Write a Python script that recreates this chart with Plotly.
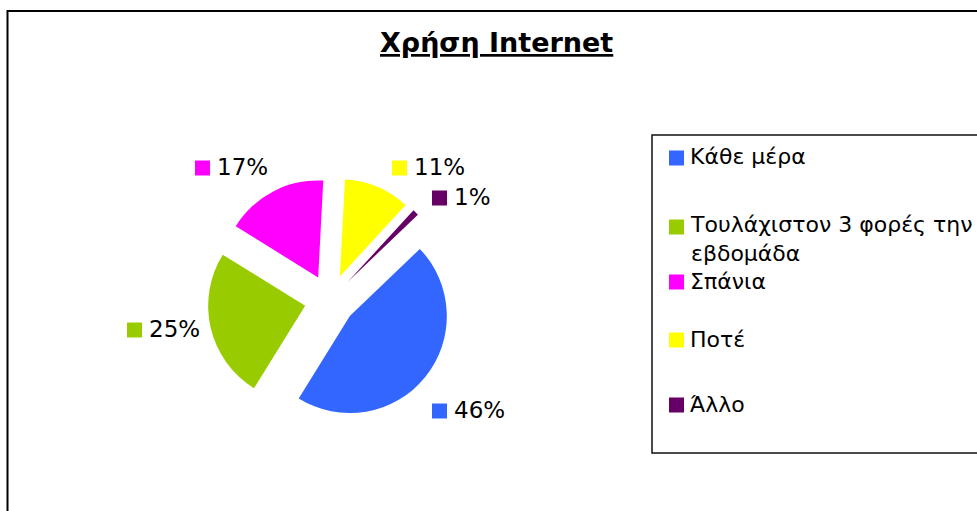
import plotly.graph_objects as go

# Survey: how often respondents use the Internet
categories = ["Κάθε μέρα", "Τουλάχιστον 3 φορές την<br>εβδομάδα", "Σπάνια", "Ποτέ", "Άλλο"]
shares = [46, 25, 17, 11, 1]
colors = ["#3366FF", "#99CC00", "#FF00FF", "#FFFF00", "#660066"]
chart_title = "Χρήση Internet"

W, H = 977, 511
FONT = "DejaVu Sans, Arial, sans-serif"


def px(x):
    return x / W


def py(y):
    return 1 - y / H


# pie placement (pixels): centre, radius and explosion
cx, cy, radius, explode = 330, 300, 97, 0.263
half = radius * (1 + explode)

fig = go.Figure(
    go.Pie(
        labels=[c.replace("<br>", " ") for c in categories],
        values=shares,
        sort=False,
        direction="clockwise",
        rotation=46.2,
        pull=[explode] * len(shares),
        marker=dict(colors=colors, line=dict(width=0)),
        textinfo="none",
        hoverinfo="label+percent",
        showlegend=False,
        domain=dict(x=[px(cx - half), px(cx + half)], y=[py(cy + half), py(cy - half)]),
    )
)

shapes = []
annotations = []

# outer chart frame (runs off the right and bottom edges)
shapes.append(dict(type="rect", xref="paper", yref="paper",
                   x0=px(7.5), x1=px(1010), y0=py(11), y1=py(540),
                   line=dict(color="black", width=2), fillcolor="rgba(0,0,0,0)"))

# title
annotations.append(dict(xref="paper", yref="paper", x=px(497), y=py(42),
                        xanchor="center", yanchor="middle", showarrow=False,
                        text="<b><u>" + chart_title + "</u></b>",
                        font=dict(family=FONT, size=27, color="black")))

# data labels: colour key + percentage
label_pos = [(432, 410), (127, 329), (195, 167), (392, 167), (432, 197)]
key = 15
for (lx, ly), v, col in zip(label_pos, shares, colors):
    shapes.append(dict(type="rect", xref="paper", yref="paper",
                       x0=px(lx), x1=px(lx + key), y0=py(ly - key / 2 + 1), y1=py(ly + key / 2 + 1),
                       line=dict(width=0), fillcolor=col))
    annotations.append(dict(xref="paper", yref="paper", x=px(lx + key + 5), y=py(ly),
                            xanchor="left", yanchor="middle", showarrow=False,
                            text=f"{v}%", font=dict(family=FONT, size=23, color="black")))

# legend box
shapes.append(dict(type="rect", xref="paper", yref="paper",
                   x0=px(652), x1=px(1010), y0=py(135), y1=py(453),
                   line=dict(color="#111111", width=1.5), fillcolor="rgba(0,0,0,0)"))

legend_rows = [157, 226, 281, 339, 404]
line_h = 26
for row_y, name, col in zip(legend_rows, categories, colors):
    shapes.append(dict(type="rect", xref="paper", yref="paper",
                       x0=px(669), x1=px(669 + key), y0=py(row_y - key / 2 + 1), y1=py(row_y + key / 2 + 1),
                       line=dict(width=0), fillcolor=col))
    n_lines = name.count("<br>") + 1
    annotations.append(dict(xref="paper", yref="paper", x=px(688),
                            y=py(row_y + (n_lines - 1) * line_h / 2),
                            xanchor="left", yanchor="middle", align="left", showarrow=False,
                            text=name, font=dict(family=FONT, size=22, color="black")))

fig.update_layout(
    width=W, height=H,
    margin=dict(l=0, r=0, t=0, b=0),
    paper_bgcolor="white", plot_bgcolor="white",
    shapes=shapes, annotations=annotations,
)

fig.write_html("out.html")
